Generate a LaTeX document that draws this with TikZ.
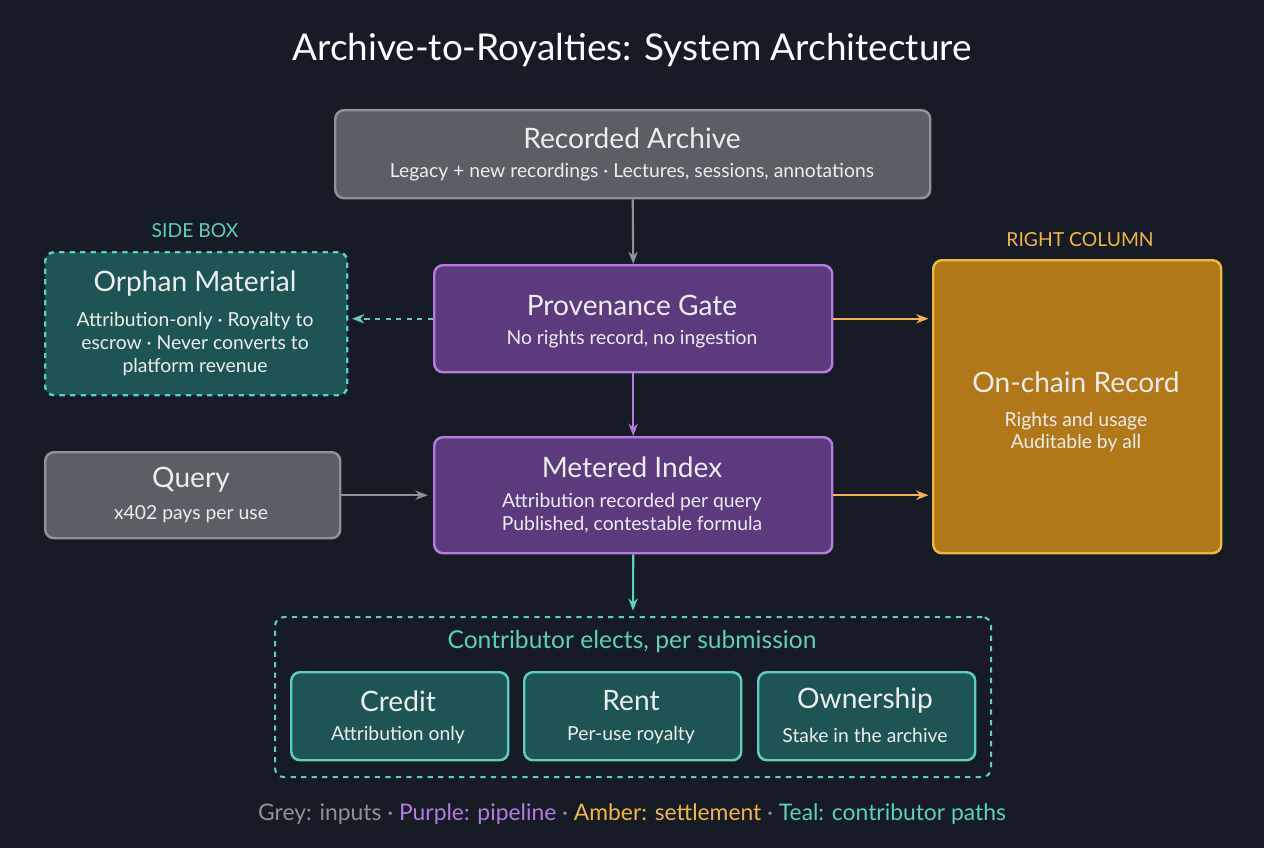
\documentclass[tikz,border=0pt]{standalone}
\usepackage{fontspec}
\setmainfont{Lato}
\usetikzlibrary{arrows.meta,positioning}
\definecolor{bg}{HTML}{161B26}
\definecolor{greyfill}{HTML}{5A5F66}
\definecolor{greyline}{HTML}{8E939A}
\definecolor{purpfill}{HTML}{5B3A7E}
\definecolor{purpline}{HTML}{B57BE0}
\definecolor{tealfill}{HTML}{1E5454}
\definecolor{tealline}{HTML}{5CCFC0}
\definecolor{ambfill}{HTML}{B07818}
\definecolor{ambline}{HTML}{F0B840}
\definecolor{txt}{HTML}{EDEDED}
\tikzset{
  box/.style={draw,line width=1.4pt,rounded corners=5pt,anchor=north west},
  grey/.style={box,fill=greyfill,draw=greyline},
  purp/.style={box,fill=purpfill,draw=purpline},
  teal/.style={box,fill=tealfill,draw=tealline},
  amb/.style={box,fill=ambfill,draw=ambline},
  head/.style={text=txt,font=\fontsize{16}{18}\selectfont},
  sub/.style={text=txt,font=\fontsize{11}{13}\selectfont,align=center},
  arr/.style={-{Stealth[length=7pt]},line width=1.2pt},
  tag/.style={font=\fontsize{11}{13}\selectfont}
}
\begin{document}
\begin{tikzpicture}[x=0.02cm,y=-0.02cm]
  \fill[bg] (0,0) rectangle (1264,848);
  \node[text=white,font=\fontsize{21}{24}\selectfont] (title) at (632,50) {Archive-to-Royalties: System Architecture};

  % inputs
  \node[grey,minimum width=595*0.02cm,minimum height=88*0.02cm] (archive) at (334,109) {};
  \node[head] at (632,138) {Recorded Archive};
  \node[sub] at (632,172) {Legacy + new recordings · Lectures, sessions, annotations};

  \node[grey,minimum width=295*0.02cm,minimum height=86*0.02cm] (query) at (44,451) {};
  \node[head] at (191,480) {Query};
  \node[sub] at (191,514) {x402 pays per use};

  % pipeline
  \node[purp,minimum width=398*0.02cm,minimum height=107*0.02cm] (gate) at (433,264) {};
  \node[head] at (632,305) {Provenance Gate};
  \node[sub] at (632,339) {No rights record, no ingestion};

  \node[purp,minimum width=398*0.02cm,minimum height=116*0.02cm] (index) at (433,436) {};
  \node[head] at (632,467) {Metered Index};
  \node[sub] at (632,513) {Attribution recorded per query\\Published, contestable formula};

  % side box
  \node[tag,text=tealline] at (195,231) {SIDE BOX};
  \node[teal,dashed,minimum width=302*0.02cm,minimum height=143*0.02cm] (orphan) at (44,251) {};
  \node[head] at (195,284) {Orphan Material};
  \node[sub] at (195,344) {Attribution-only · Royalty to\\escrow · Never converts to\\platform revenue};

  % right column
  \node[tag,text=ambline] at (1080,240) {RIGHT COLUMN};
  \node[amb,minimum width=288*0.02cm,minimum height=293*0.02cm] (chain) at (932,259) {};
  \node[head] at (1076,382) {On-chain Record};
  \node[sub] at (1076,432) {Rights and usage\\Auditable by all};

  % contributor paths
  \node[box,dashed,draw=tealline,line width=1.2pt,minimum width=716*0.02cm,minimum height=160*0.02cm] (elect) at (274,616) {};
  \node[sub,text=tealline,font=\fontsize{14}{16}\selectfont] at (632,642) {Contributor elects, per submission};
  \foreach \x/\nm/\hd/\sb in {290/credit/Credit/Attribution only,523/rent/Rent/Per-use royalty,757/own/Ownership/Stake in the archive}{
    \node[teal,minimum width=217*0.02cm,minimum height=88*0.02cm] (\nm) at (\x,671) {};
    \node[head] at (\x+108,701) {\hd};
    \node[sub] at (\x+108,735) {\sb};
  }

  % connectors
  \draw[arr,greyline] (archive.south) -- (gate.north);
  \draw[arr,greyline] (query.east) -- ([xshift=-3pt]index.west |- query.east);
  \draw[arr,purpline] (gate.south) -- (index.north);
  \draw[arr,tealline,dashed] (gate.west) -- ([xshift=2pt]orphan.east |- gate.west);
  \draw[arr,ambline] (gate.east) -- ([xshift=-2pt]chain.west |- gate.east);
  \draw[arr,ambline] (index.east) -- ([xshift=-2pt]chain.west |- index.east);
  \draw[arr,tealline] (index.south) -- ([yshift=3pt]elect.north);

  % legend
  \node[font=\fontsize{13}{15}\selectfont] (legend) at (632,814) {\textcolor{greyline}{Grey: inputs} \textcolor{greyline}{·} \textcolor{purpline}{Purple: pipeline} \textcolor{greyline}{·} \textcolor{ambline}{Amber: settlement} \textcolor{greyline}{·} \textcolor{tealline}{Teal: contributor paths}};
\end{tikzpicture}
\end{document}
